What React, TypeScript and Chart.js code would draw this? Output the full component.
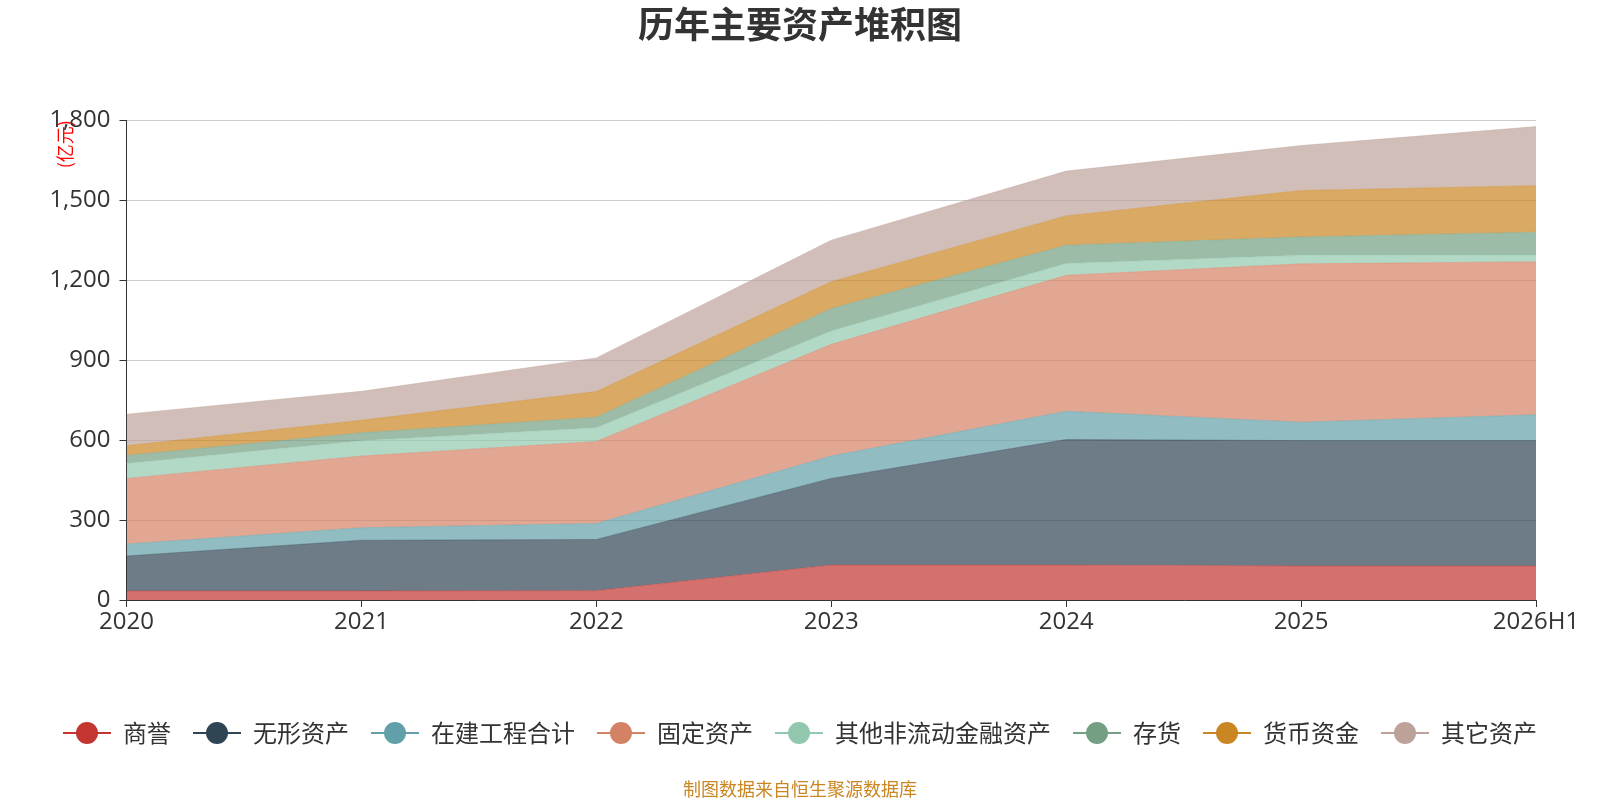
import React, { useEffect, useRef } from "react";
import { Chart, registerables } from "chart.js";

Chart.register(...registerables);

const FONT = '"Open Sans", "Noto Sans CJK SC", sans-serif';
const CJK_FONT = '"Noto Sans CJK SC", "Noto Sans", sans-serif';

const years = ["2020", "2021", "2022", "2023", "2024", "2025", "2026H1"];

// 亿元
const goodwill = [34, 34, 35, 131, 131, 128, 128];
const intangible = [131, 190, 192, 325, 471, 470, 470];
const construction = [45, 47, 60, 84, 106, 69, 97];
const fixedAssets = [246, 269, 308, 419, 510, 594, 574];
const otherFinancial = [56, 57, 51, 50, 44, 32, 25];
const inventory = [30, 30, 40, 85, 69, 69, 86];
const cash = [37, 47, 96, 100, 110, 174, 174];
const otherAssets = [118, 109, 126, 156, 168, 169, 222];

const seriesNames = [
    "商誉",
    "无形资产",
    "在建工程合计",
    "固定资产",
    "其他非流动金融资产",
    "存货",
    "货币资金",
    "其它资产",
];
const seriesValues = [
    goodwill,
    intangible,
    construction,
    fixedAssets,
    otherFinancial,
    inventory,
    cash,
    otherAssets,
];
const seriesColors = [
    "#c23531",
    "#2f4554",
    "#61a0a8",
    "#d48265",
    "#91c7ae",
    "#749f83",
    "#ca8622",
    "#bda29a",
];

const rgba = (hex: string, a: number) => {
    const n = parseInt(hex.slice(1), 16);
    return `rgba(${(n >> 16) & 255}, ${(n >> 8) & 255}, ${n & 255}, ${a})`;
};

// legend marker: a line with a dot on it
const makeMarker = (color: string) => {
    const c = document.createElement("canvas");
    c.width = 48;
    c.height = 24;
    const ctx = c.getContext("2d")!;
    ctx.strokeStyle = color;
    ctx.lineWidth = 2;
    ctx.beginPath();
    ctx.moveTo(0, 12);
    ctx.lineTo(48, 12);
    ctx.stroke();
    ctx.fillStyle = color;
    ctx.beginPath();
    ctx.arc(24, 12, 11, 0, Math.PI * 2);
    ctx.fill();
    return c;
};

const App = () => {
    const chartRef = useRef<HTMLCanvasElement>(null);

    useEffect(() => {
        document.body.style.margin = "0";
        const ctx = chartRef.current?.getContext("2d");
        if (!ctx) return;

        Chart.defaults.font.family = FONT;

        const myChart = new Chart(ctx, {
            type: "line",
            data: {
                labels: years,
                datasets: seriesNames.map((name, i) => ({
                    label: name,
                    data: seriesValues[i],
                    backgroundColor: rgba(seriesColors[i], 0.7),
                    borderColor: rgba(seriesColors[i], 0.4),
                    borderWidth: 1,
                    fill: i === 0 ? "origin" : "-1",
                    pointRadius: 0,
                    pointHoverRadius: 0,
                    pointStyle: makeMarker(seriesColors[i]),
                    tension: 0,
                })),
            },
            options: {
                animation: false,
                responsive: true,
                maintainAspectRatio: false,
                layout: {
                    padding: { left: 36, right: 36, top: 0, bottom: 0 },
                },
                plugins: {
                    tooltip: { enabled: false },
                    title: {
                        display: true,
                        text: "历年主要资产堆积图",
                        color: "#333",
                        font: { family: CJK_FONT, size: 36, weight: "bold" },
                        padding: { top: 3, bottom: 74 },
                    },
                    subtitle: {
                        display: true,
                        position: "bottom",
                        text: "制图数据来自恒生聚源数据库",
                        color: "#ca8622",
                        font: { family: CJK_FONT, size: 18 },
                        padding: { top: 23.4, bottom: 0 },
                    },
                    legend: {
                        position: "bottom",
                        labels: {
                            usePointStyle: true,
                            pointStyleWidth: 48,
                            padding: 22,
                            color: "#333",
                            font: { family: CJK_FONT, size: 24 },
                        },
                    },
                },
                scales: {
                    x: {
                        grid: {
                            display: true,
                            drawOnChartArea: false,
                            drawTicks: true,
                            tickLength: 7,
                            tickColor: "#333",
                        },
                        border: { color: "#333" },
                        ticks: {
                            color: "#333",
                            font: { size: 24 },
                            padding: 1,
                            maxRotation: 0,
                            autoSkip: false,
                        },
                        afterFit: (s: any) => {
                            s.height = 99;
                        },
                    },
                    y: {
                        stacked: true,
                        min: 0,
                        max: 1800,
                        ticks: {
                            stepSize: 300,
                            color: "#333",
                            font: { size: 24 },
                            padding: 9,
                            callback: (v: any) => Number(v).toLocaleString("en-US"),
                        },
                        grid: {
                            color: "#ccc",
                            tickLength: 7,
                            tickColor: "#333",
                        },
                        border: { color: "#333" },
                        title: {
                            display: true,
                            text: "(亿元)",
                            color: "#ff0000",
                            font: { family: CJK_FONT, size: 18 },
                            align: "end",
                            padding: { top: 18.2, bottom: 0 },
                        },
                        afterFit: (s: any) => {
                            s.width = 90.5;
                        },
                    },
                    // empty right-hand strip so the plot ends where the reference does
                    spacer: {
                        type: "linear",
                        position: "right",
                        display: true,
                        grid: { display: false },
                        border: { display: false },
                        ticks: { display: false },
                        afterFit: (s: any) => {
                            s.width = 28;
                        },
                    },
                },
            },
        });

        return () => {
            myChart.destroy();
        };
    }, []);

    return (
        <div style={{ position: "relative", width: 1600, height: 800 }}>
            <canvas ref={chartRef}></canvas>
        </div>
    );
};

export default App;
